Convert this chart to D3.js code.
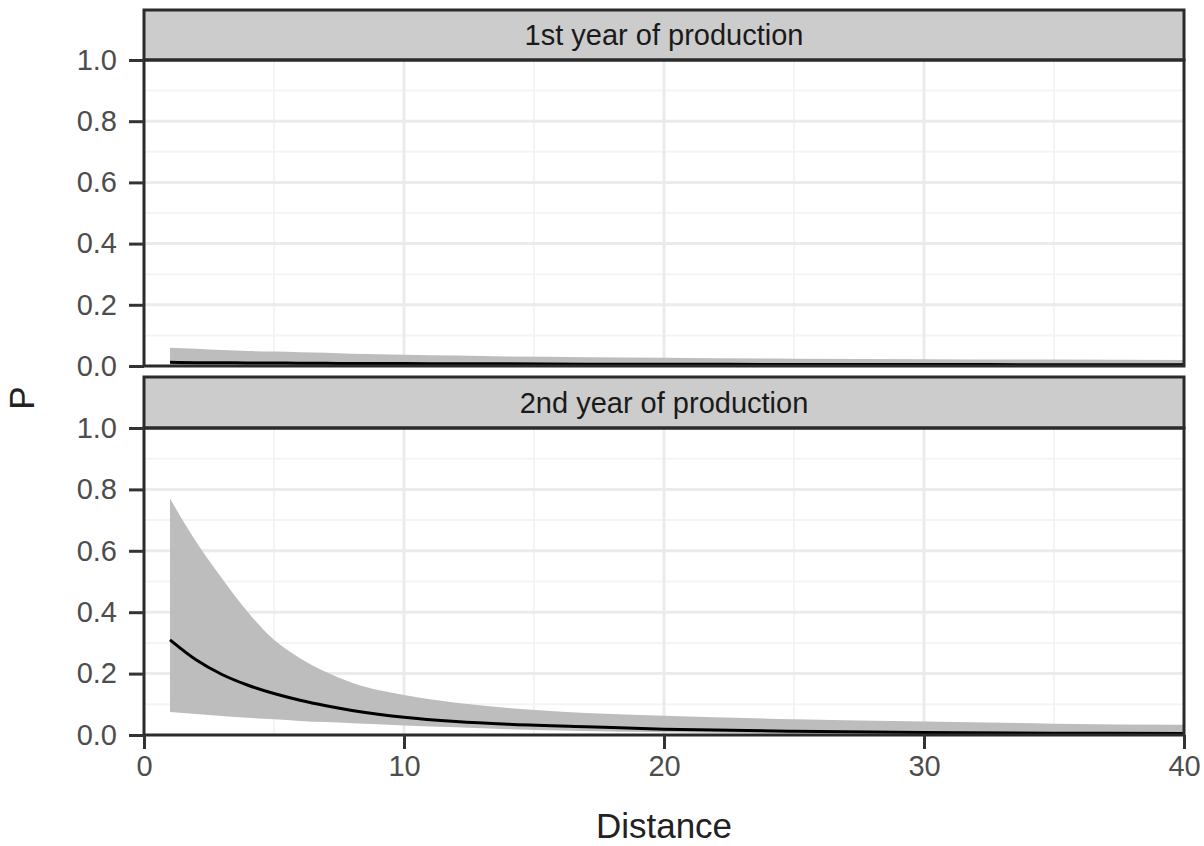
<!DOCTYPE html>
<html>
<head>
<meta charset="utf-8">
<script src="https://cdn.jsdelivr.net/npm/d3@7.9.0/dist/d3.min.js"></script>
<style>
  html, body { margin: 0; padding: 0; background: #fff; }
  svg { display: block; font-family: "Liberation Sans", Arial, sans-serif; }
</style>
</head>
<body>
<svg id="chart" width="1204" height="846"></svg>
<script>
// ========== Data ==========

const distance = [1, 2, 3, 4, 5, 6, 7, 8, 10, 12, 14, 17, 20, 25, 30, 35, 40];

// 1st year of production
const year1Mean  = [0.012, 0.011, 0.011, 0.010, 0.010, 0.009, 0.009, 0.008, 0.008, 0.007, 0.007, 0.006, 0.006, 0.005, 0.005, 0.004, 0.004];
const year1Upper = [0.060, 0.056, 0.052, 0.049, 0.047, 0.045, 0.043, 0.040, 0.037, 0.034, 0.031, 0.029, 0.027, 0.024, 0.022, 0.021, 0.020];
const year1Lower = [0.002, 0.002, 0.002, 0.002, 0.002, 0.002, 0.001, 0.001, 0.001, 0.001, 0.001, 0.001, 0.001, 0.001, 0.001, 0.001, 0.000];

// 2nd year of production
const year2Mean  = [0.31, 0.245, 0.197, 0.162, 0.135, 0.113, 0.095, 0.08, 0.058, 0.044, 0.035, 0.027, 0.019, 0.012, 0.008, 0.006, 0.005];
const year2Upper = [0.77, 0.63, 0.51, 0.40, 0.31, 0.25, 0.205, 0.17, 0.13, 0.105, 0.088, 0.072, 0.063, 0.051, 0.044, 0.037, 0.033];
const year2Lower = [0.075, 0.068, 0.062, 0.056, 0.051, 0.046, 0.042, 0.038, 0.031, 0.025, 0.019, 0.013, 0.009, 0.005, 0.003, 0.002, 0.001];

const panelLabels = ['1st year of production', '2nd year of production'];
const xTicks = [0, 10, 20, 30, 40];
const yTicks = [0, 0.2, 0.4, 0.6, 0.8, 1.0];

// ========== Layout ==========

const svg = d3.select('#chart');
const left = 144, right = 1184;
const panels = [
  { label: panelLabels[0], stripTop: 10, top: 60, bottom: 366, mean: year1Mean, upper: year1Upper, lower: year1Lower, showX: false },
  { label: panelLabels[1], stripTop: 377, top: 428, bottom: 735, mean: year2Mean, upper: year2Upper, lower: year2Lower, showX: true }
];

const x = d3.scaleLinear().domain([0, 40]).range([left, right]);

panels.forEach((p) => {
  const y = d3.scaleLinear().domain([0, 1]).range([p.bottom, p.top]);
  const g = svg.append('g');

  // minor grid
  g.selectAll('.vminor').data([5, 15, 25, 35]).join('line')
    .attr('x1', (d) => x(d)).attr('x2', (d) => x(d))
    .attr('y1', p.top).attr('y2', p.bottom)
    .attr('stroke', '#f4f4f4').attr('stroke-width', 2);
  g.selectAll('.hminor').data([0.1, 0.3, 0.5, 0.7, 0.9]).join('line')
    .attr('x1', left).attr('x2', right)
    .attr('y1', (d) => y(d)).attr('y2', (d) => y(d))
    .attr('stroke', '#f4f4f4').attr('stroke-width', 2);

  // major grid
  g.selectAll('.vmajor').data([10, 20, 30]).join('line')
    .attr('x1', (d) => x(d)).attr('x2', (d) => x(d))
    .attr('y1', p.top).attr('y2', p.bottom)
    .attr('stroke', '#ebebeb').attr('stroke-width', 3);
  g.selectAll('.hmajor').data([0.2, 0.4, 0.6, 0.8]).join('line')
    .attr('x1', left).attr('x2', right)
    .attr('y1', (d) => y(d)).attr('y2', (d) => y(d))
    .attr('stroke', '#ebebeb').attr('stroke-width', 3);

  const rows = distance.map((d, i) => ({ d, m: p.mean[i], hi: p.upper[i], lo: p.lower[i] }));

  // ribbon
  const area = d3.area()
    .x((r) => x(r.d))
    .y0((r) => y(r.lo))
    .y1((r) => y(r.hi))
    .curve(d3.curveMonotoneX);
  g.append('path').datum(rows).attr('d', area).attr('fill', '#bdbdbd');

  // mean line
  const line = d3.line()
    .x((r) => x(r.d))
    .y((r) => y(r.m))
    .curve(d3.curveMonotoneX);
  g.append('path').datum(rows).attr('d', line)
    .attr('fill', 'none').attr('stroke', '#000').attr('stroke-width', 3);

  // strip
  g.append('rect')
    .attr('x', left).attr('y', p.stripTop)
    .attr('width', right - left).attr('height', p.top - p.stripTop)
    .attr('fill', '#cccccc').attr('stroke', '#2b2b2b').attr('stroke-width', 3);
  g.append('text')
    .attr('x', (left + right) / 2).attr('y', (p.stripTop + p.top) / 2)
    .attr('text-anchor', 'middle').attr('dominant-baseline', 'central')
    .attr('font-size', 29).attr('fill', '#1a1a1a')
    .text(p.label);

  // panel border
  g.append('rect')
    .attr('x', left).attr('y', p.top)
    .attr('width', right - left).attr('height', p.bottom - p.top)
    .attr('fill', 'none').attr('stroke', '#2b2b2b').attr('stroke-width', 3);

  // y axis
  const yAxis = d3.axisLeft(y).tickValues(yTicks).tickFormat(d3.format('.1f')).tickSize(15).tickPadding(12);
  const ya = g.append('g').attr('transform', `translate(${left},0)`).call(yAxis);
  ya.select('.domain').remove();
  ya.selectAll('line').attr('stroke', '#333').attr('stroke-width', 3);
  ya.selectAll('text').attr('font-size', 29).attr('fill', '#4d4d4d')
    .attr('font-family', '"Liberation Sans", Arial, sans-serif');

  if (p.showX) {
    const xAxis = d3.axisBottom(x).tickValues(xTicks).tickSize(14).tickPadding(6);
    const xa = g.append('g').attr('transform', `translate(0,${p.bottom})`).call(xAxis);
    xa.select('.domain').remove();
    xa.selectAll('line').attr('stroke', '#333').attr('stroke-width', 3);
    xa.selectAll('text').attr('font-size', 29).attr('fill', '#4d4d4d')
      .attr('font-family', '"Liberation Sans", Arial, sans-serif');
  }
});

// axis titles
svg.append('text')
  .attr('x', (left + right) / 2).attr('y', 838)
  .attr('text-anchor', 'middle')
  .attr('font-size', 35).attr('fill', '#222')
  .text('Distance');

svg.append('text')
  .attr('transform', 'translate(34,398) rotate(-90)')
  .attr('text-anchor', 'middle')
  .attr('font-size', 35).attr('fill', '#222')
  .text('P');
</script>
</body>
</html>
